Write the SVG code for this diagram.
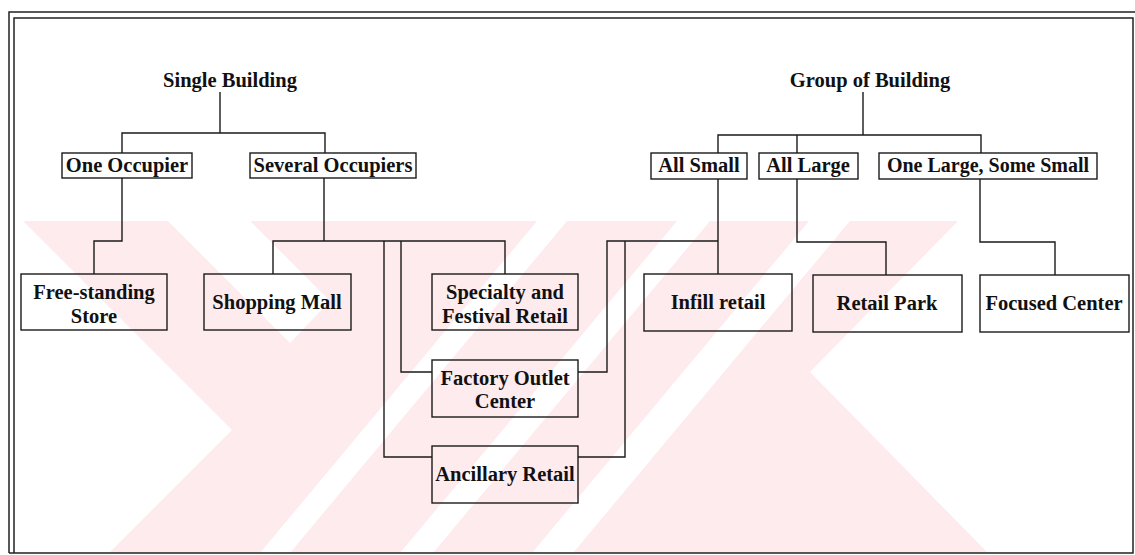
<svg xmlns="http://www.w3.org/2000/svg" width="1135" height="555" viewBox="0 0 1135 555">
<style>
.bx{fill:none;stroke:#1a1a1a;stroke-width:1.4}
.ln{fill:none;stroke:#1a1a1a;stroke-width:1.4}
.fr{fill:none;stroke:#222;stroke-width:1.5}
text{font-family:"Liberation Serif","Times New Roman",serif;font-weight:bold;font-size:20.5px;fill:#111;text-anchor:middle}
.wm{fill:#fdebee}
.ws{fill:#ffffff}
</style>
<rect width="1135" height="555" fill="#ffffff"/>
<g id="watermark">
<polygon class="wm" points="23,221 958,221 810,372 988,553 109,553 232,430"/>
<polygon class="ws" points="168,221 250,221 330,301 290,343"/>
<polygon class="ws" points="537,221 567,221 290,553 260,553"/>
<polygon class="ws" points="677,221 710,221 433,553 400,553"/>
<polygon class="ws" points="809,221 850,221 573,553 532,553"/>
</g>
<g id="frame">
<path class="fr" d="M9,553 V12 H1135"/>
<path class="fr" d="M14,553 V18 H1133 V553 H9"/>
</g>
<g id="connectors">
<path class="ln" d="M220,92 V133 M122,153 V133 H325 V153"/>
<path class="ln" d="M863,92 V135 M718,153 V135 H981 V153 M797,135 V153"/>
<path class="ln" d="M122,178 V241 H94 V274"/>
<path class="ln" d="M324,178 V241 M273,274 V241 H505 V274 M384,241 V457 H432 M401,241 V372 H432"/>
<path class="ln" d="M718,179 V274 M718,241 H607 V372 H578 M625,241 V457 H578"/>
<path class="ln" d="M797,179 V242 H886 V275"/>
<path class="ln" d="M980,179 V242 H1055 V275"/>
</g>
<g id="single-building"><text x="230" y="87">Single Building</text></g>
<g id="group-of-building"><text x="870" y="87">Group of Building</text></g>
<g id="one-occupier"><rect class="bx" x="62" y="153" width="130" height="25"/><text x="127" y="172">One Occupier</text></g>
<g id="several-occupiers"><rect class="bx" x="250" y="153" width="166" height="25"/><text x="333" y="172">Several Occupiers</text></g>
<g id="all-small"><rect class="bx" x="651" y="153" width="96" height="26"/><text x="699" y="172">All Small</text></g>
<g id="all-large"><rect class="bx" x="759" y="153" width="99" height="26"/><text x="808" y="172">All Large</text></g>
<g id="one-large-some-small"><rect class="bx" x="879" y="153" width="218" height="26"/><text x="988" y="172" style="font-size:20px">One Large, Some Small</text></g>
<g id="free-standing-store"><rect class="bx" x="21" y="274" width="146" height="56"/><text x="94" y="299">Free-standing</text><text x="94" y="323">Store</text></g>
<g id="shopping-mall"><rect class="bx" x="204" y="274" width="147" height="56"/><text x="277" y="309">Shopping Mall</text></g>
<g id="specialty-festival"><rect class="bx" x="432" y="274" width="146" height="56"/><text x="505" y="299">Specialty and</text><text x="505" y="323">Festival Retail</text></g>
<g id="factory-outlet"><rect class="bx" x="432" y="360" width="146" height="57"/><text x="505" y="385">Factory Outlet</text><text x="505" y="408">Center</text></g>
<g id="ancillary-retail"><rect class="bx" x="432" y="446" width="146" height="57"/><text x="505" y="481">Ancillary Retail</text></g>
<g id="infill-retail"><rect class="bx" x="644" y="274" width="148" height="57"/><text x="718" y="309">Infill retail</text></g>
<g id="retail-park"><rect class="bx" x="813" y="275" width="149" height="57"/><text x="887" y="310">Retail Park</text></g>
<g id="focused-center"><rect class="bx" x="980" y="275" width="149" height="57"/><text x="1054" y="310">Focused Center</text></g>
</svg>
